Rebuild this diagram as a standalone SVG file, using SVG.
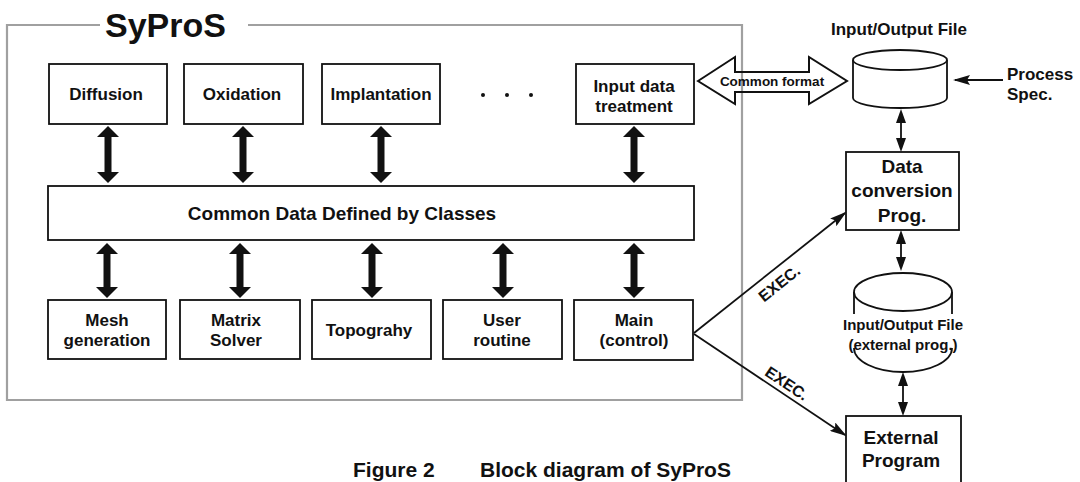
<svg xmlns="http://www.w3.org/2000/svg" width="1080" height="482" viewBox="0 0 1080 482">
<style>
  text { font-family: "Liberation Sans", Arial, sans-serif; font-weight: bold; fill: #111; }
  .box { fill: #fff; stroke: #111; stroke-width: 1.8; }
  .t17 { font-size: 17px; text-anchor: middle; }
  .t19 { font-size: 19px; text-anchor: middle; }
  .t15 { font-size: 15px; text-anchor: middle; }
  .thick { stroke: #111; stroke-width: 7; fill: none; }
  .thin { stroke: #111; stroke-width: 1.8; fill: none; }
  .frame { stroke: #a0a0a0; stroke-width: 2.2; fill: none; }
</style>
<defs>
  <marker id="big" markerUnits="userSpaceOnUse" viewBox="0 -11 11 22" markerWidth="11" markerHeight="22" refX="1" refY="0" orient="auto-start-reverse">
    <path d="M0,-11 L11,0 L0,11 Z" fill="#111"/>
  </marker>
  <marker id="small" markerUnits="userSpaceOnUse" viewBox="0 -5 14 10" markerWidth="14" markerHeight="10" refX="2" refY="0" orient="auto-start-reverse">
    <path d="M0,-5 L14,0 L0,5 Z" fill="#111"/>
  </marker>
  <marker id="exec" markerUnits="userSpaceOnUse" viewBox="0 -5 17 10" markerWidth="17" markerHeight="10" refX="15" refY="0" orient="auto">
    <path d="M0,-5 L17,0 L0,5 L3,0 Z" fill="#111"/>
  </marker>
</defs>
<rect width="1080" height="482" fill="#fff"/>

<g id="syproS-frame">
  <path class="frame" d="M100,25 L7,25 L7,400 L742,400 L742,25 L248,25"/>
  <text x="105" y="37" style="font-size:34px">SyProS</text>
</g>

<g id="connectors">
  <line class="thick" x1="108" y1="136" x2="108" y2="173" marker-start="url(#big)" marker-end="url(#big)"/>
  <line class="thick" x1="243" y1="136" x2="243" y2="173" marker-start="url(#big)" marker-end="url(#big)"/>
  <line class="thick" x1="381" y1="136" x2="381" y2="173" marker-start="url(#big)" marker-end="url(#big)"/>
  <line class="thick" x1="634" y1="136" x2="634" y2="173" marker-start="url(#big)" marker-end="url(#big)"/>
  <line class="thick" x1="107" y1="253" x2="107" y2="288" marker-start="url(#big)" marker-end="url(#big)"/>
  <line class="thick" x1="240" y1="253" x2="240" y2="288" marker-start="url(#big)" marker-end="url(#big)"/>
  <line class="thick" x1="372" y1="253" x2="372" y2="288" marker-start="url(#big)" marker-end="url(#big)"/>
  <line class="thick" x1="503" y1="253" x2="503" y2="288" marker-start="url(#big)" marker-end="url(#big)"/>
  <line class="thick" x1="634" y1="253" x2="634" y2="288" marker-start="url(#big)" marker-end="url(#big)"/>
  <polygon points="698,81 735,57 735,72 809,72 809,57 847,81 809,104 809,92 735,92 735,104" fill="none" stroke="#111" stroke-width="2"/>
  <text x="772" y="86" style="font-size:13.5px;text-anchor:middle">Common format</text>
  <line class="thin" x1="901" y1="121" x2="901" y2="140" marker-start="url(#small)" marker-end="url(#small)"/>
  <line class="thin" x1="901" y1="242" x2="901" y2="259" marker-start="url(#small)" marker-end="url(#small)"/>
  <line class="thin" x1="903" y1="384" x2="903" y2="404" marker-start="url(#small)" marker-end="url(#small)"/>
  <line class="thin" x1="1003" y1="80" x2="955" y2="80" marker-end="url(#exec)"/>
  <line class="thin" x1="694" y1="333" x2="845" y2="213" stroke-width="2" marker-end="url(#exec)"/>
  <line class="thin" x1="694" y1="334" x2="845" y2="435" stroke-width="2" marker-end="url(#exec)"/>
  <text transform="translate(779,283) rotate(-38.7)" x="0" y="6" style="font-size:16px;text-anchor:middle">EXEC.</text>
  <text transform="translate(787,383) rotate(33.7)" x="0" y="6" style="font-size:16px;text-anchor:middle">EXEC.</text>
</g>

<g id="diffusion"><rect class="box" x="49" y="64" width="118" height="60"/><text class="t17" x="106" y="100">Diffusion</text></g>
<g id="oxidation"><rect class="box" x="184" y="64" width="119" height="60"/><text class="t17" x="242" y="100">Oxidation</text></g>
<g id="implantation"><rect class="box" x="322" y="64" width="118" height="60"/><text class="t17" x="381" y="100">Implantation</text></g>
<g id="dots" fill="#111"><circle cx="483" cy="95" r="2"/><circle cx="507" cy="95" r="2"/><circle cx="531" cy="95" r="2"/></g>
<g id="input-data"><rect class="box" x="576" y="64" width="118" height="60"/><text class="t17" x="634" y="92">Input data</text><text class="t17" x="634" y="112">treatment</text></g>

<g id="common-data"><rect class="box" x="48" y="186" width="646" height="54"/><text x="342" y="220" style="font-size:19px;text-anchor:middle">Common Data Defined by Classes</text></g>

<g id="mesh"><rect class="box" x="48" y="300" width="118" height="59"/><text class="t17" x="107" y="326">Mesh</text><text class="t17" x="107" y="346">generation</text></g>
<g id="matrix"><rect class="box" x="180" y="300" width="120" height="59"/><text class="t17" x="236" y="326">Matrix</text><text class="t17" x="236" y="346">Solver</text></g>
<g id="topograhy"><rect class="box" x="312" y="300" width="119" height="59"/><text class="t17" x="369" y="336">Topograhy</text></g>
<g id="user-routine"><rect class="box" x="443" y="300" width="119" height="59"/><text class="t17" x="502" y="326">User</text><text class="t17" x="502" y="346">routine</text></g>
<g id="main"><rect class="box" x="574" y="300" width="119" height="60"/><text class="t17" x="634" y="326">Main</text><text class="t17" x="634" y="346">(control)</text></g>

<g id="io-file">
  <text class="t17" x="899" y="35">Input/Output File</text>
  <path d="M853,60 L853,98 A47,10 0 0 0 947,98 L947,60" fill="#fff" stroke="#111" stroke-width="1.8"/>
  <ellipse cx="900" cy="60" rx="47" ry="10" fill="#fff" stroke="#111" stroke-width="1.8"/>
</g>
<g id="process-spec"><text x="1007" y="80" style="font-size:17px">Process</text><text x="1007" y="100" style="font-size:17px">Spec.</text></g>
<g id="data-conversion"><rect class="box" x="846" y="152" width="113" height="78"/><text class="t19" x="902" y="173">Data</text><text class="t19" x="902" y="197">conversion</text><text class="t19" x="902" y="222">Prog.</text></g>
<g id="io-file-ext">
  <ellipse cx="903" cy="292" rx="49" ry="19" fill="#fff" stroke="#111" stroke-width="1.8"/>
  <path d="M854,292 L854,314 M952,292 L952,314" stroke="#111" stroke-width="1.8"/>
  <path d="M854,348 A49,24 0 0 0 952,348" fill="none" stroke="#111" stroke-width="1.8"/>
  <text class="t15" x="903" y="330">Input/Output File</text>
  <text class="t15" x="903" y="350">(external prog.)</text>
</g>
<g id="external-program"><rect class="box" x="846" y="416" width="115" height="80"/><text class="t19" x="901" y="444">External</text><text class="t19" x="901" y="467">Program</text></g>

<g id="caption"><text x="353" y="477" style="font-size:21px">Figure 2</text><text x="480" y="477" style="font-size:21px">Block diagram of SyProS</text></g>
</svg>
